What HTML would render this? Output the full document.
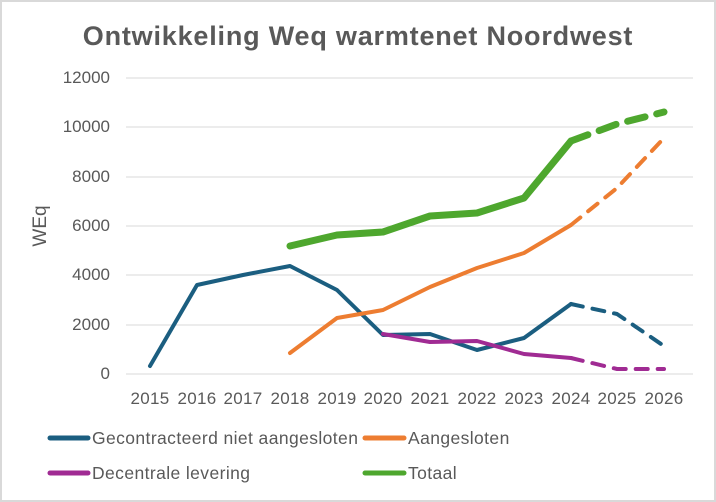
<!DOCTYPE html>
<html><head><meta charset="utf-8"><style>
body{margin:0;background:#fff}
svg{display:block}
text{font-family:"Liberation Sans",sans-serif;fill:#595959}
</style></head><body>
<svg width="716" height="502" viewBox="0 0 716 502">
<rect x="1" y="1" width="714" height="500" fill="#fff" stroke="#d9d9d9" stroke-width="2"/>
<text x="358" y="45" text-anchor="middle" font-size="27" font-weight="bold" letter-spacing="0.8">Ontwikkeling Weq warmtenet Noordwest</text>
<g stroke="#d9d9d9" stroke-width="1">
<line x1="126" x2="693" y1="78" y2="78"/><line x1="126" x2="693" y1="127" y2="127"/>
<line x1="126" x2="693" y1="177" y2="177"/><line x1="126" x2="693" y1="226" y2="226"/>
<line x1="126" x2="693" y1="275" y2="275"/><line x1="126" x2="693" y1="325" y2="325"/>
<line x1="126" x2="693" y1="374" y2="374"/>
</g>
<g font-size="17" text-anchor="end">
<text x="110" y="83">12000</text><text x="110" y="132">10000</text><text x="110" y="182">8000</text>
<text x="110" y="231">6000</text><text x="110" y="280">4000</text><text x="110" y="330">2000</text><text x="110" y="379">0</text>
</g>
<text transform="translate(46,226) rotate(-90)" font-size="19" text-anchor="middle">WEq</text>
<g font-size="17" text-anchor="middle" letter-spacing="0.3">
<text x="150" y="404">2015</text><text x="197" y="404">2016</text><text x="243" y="404">2017</text><text x="290" y="404">2018</text>
<text x="337" y="404">2019</text><text x="383" y="404">2020</text><text x="430" y="404">2021</text><text x="477" y="404">2022</text>
<text x="524" y="404">2023</text><text x="571" y="404">2024</text><text x="617" y="404">2025</text><text x="664" y="404">2026</text>
</g>
<g fill="none" stroke-linecap="round" stroke-linejoin="round">
<polyline stroke="#1b5e80" stroke-width="4" points="150,366 197,285 243,275 290,266 337,290 383,335 430,334 477,350 524,338 571,304"/>
<polyline stroke="#1b5e80" stroke-width="4" stroke-dasharray="12,10" points="571,304 617,314 664,346"/>
<polyline stroke="#ed7d31" stroke-width="4" points="290,353 337,318 383,310 430,287 477,268 524,253 571,225"/>
<polyline stroke="#ed7d31" stroke-width="4" stroke-dasharray="12,10" points="571,225 617,188 664,138"/>
<polyline stroke="#a02b93" stroke-width="4" points="383,334 430,342 477,341 524,354 571,358"/>
<polyline stroke="#a02b93" stroke-width="4" stroke-dasharray="12,10" points="571,358 617,369 664,369"/>
<polyline stroke="#4ea72e" stroke-width="7" points="290,246 337,235 383,232 430,216 477,213 524,198 571,141"/>
<polyline stroke="#4ea72e" stroke-width="7" stroke-dasharray="18,12" points="571,141 617,124 664,112"/>
</g>
<g stroke-width="5" stroke-linecap="round">
<line x1="50" x2="88" y1="438" y2="438" stroke="#1b5e80"/>
<line x1="365" x2="404" y1="438" y2="438" stroke="#ed7d31"/>
<line x1="50" x2="88" y1="473" y2="473" stroke="#a02b93"/>
<line x1="365" x2="404" y1="473" y2="473" stroke="#4ea72e"/>
</g>
<g font-size="17.5" letter-spacing="0.4">
<text x="92" y="444">Gecontracteerd niet aangesloten</text>
<text x="408" y="444">Aangesloten</text>
<text x="92" y="479">Decentrale levering</text>
<text x="408" y="479">Totaal</text>
</g>
</svg>
</body></html>
